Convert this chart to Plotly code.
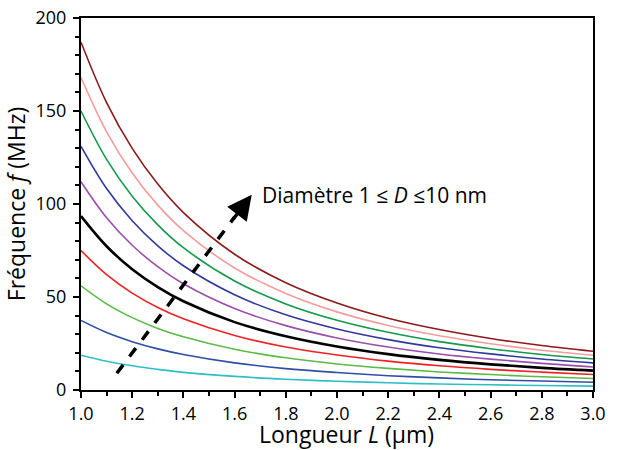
import plotly.graph_objects as go

# Longueur L (µm)
L = [1.0, 1.1, 1.2, 1.3, 1.4, 1.6, 1.8, 2.0, 2.2, 2.4, 2.6, 2.8, 3.0]

# Fréquence f (MHz), one series per diameter (1 ... 10 nm)
f_d1 = [18.7, 15.5, 13.0, 11.1, 9.5, 7.3, 5.8, 4.7, 3.9, 3.2, 2.8, 2.4, 2.1]
f_d2 = [37.4, 30.9, 26.0, 22.1, 19.1, 14.6, 11.5, 9.4, 7.7, 6.5, 5.5, 4.8, 4.2]
f_d3 = [56.0, 46.3, 38.9, 33.1, 28.6, 21.9, 17.3, 14.0, 11.6, 9.7, 8.3, 7.1, 6.2]
f_d4 = [75.0, 62.0, 52.1, 44.4, 38.3, 29.3, 23.1, 18.8, 15.5, 13.0, 11.1, 9.6, 8.3]
f_d5 = [93.5, 77.3, 64.9, 55.3, 47.7, 36.5, 28.9, 23.4, 19.3, 16.2, 13.8, 11.9, 10.4]
f_d6 = [112.0, 92.6, 77.8, 66.3, 57.1, 43.8, 34.6, 28.0, 23.1, 19.4, 16.6, 14.3, 12.4]
f_d7 = [131.0, 108.3, 91.0, 77.5, 66.8, 51.2, 40.4, 32.8, 27.1, 22.7, 19.4, 16.7, 14.6]
f_d8 = [150.0, 124.0, 104.2, 88.8, 76.5, 58.6, 46.3, 37.5, 31.0, 26.0, 22.2, 19.1, 16.7]
f_d9 = [168.0, 138.8, 116.7, 99.4, 85.7, 65.6, 51.9, 42.0, 34.7, 29.2, 24.9, 21.4, 18.7]
f_d10 = [187.0, 154.5, 129.9, 110.7, 95.4, 73.0, 57.7, 46.8, 38.6, 32.5, 27.7, 23.9, 20.8]

series = [f_d1, f_d2, f_d3, f_d4, f_d5, f_d6, f_d7, f_d8, f_d9, f_d10]
colors = ["#2EBFC4", "#2F4FA6", "#5BBB45", "#EE2224", "#000000",
          "#9A4FA8", "#2E3A9C", "#14994A", "#F59C9C", "#8B1A1A"]
widths = [1.6, 1.6, 1.6, 1.6, 2.6, 1.6, 1.6, 1.6, 1.6, 1.6]

x_ticks = [1.0, 1.2, 1.4, 1.6, 1.8, 2.0, 2.2, 2.4, 2.6, 2.8, 3.0]
x_tick_labels = ["1.0", "1.2", "1.4", "1.6", "1.8", "2.0", "2.2", "2.4", "2.6", "2.8", "3.0"]
y_ticks = [0, 50, 100, 150, 200]
y_tick_labels = ["0", "50", "100", "150", "200"]

# dashed arrow (data coordinates)
arrow_start = (1.14, 9.0)
arrow_end = (1.667, 105.0)
arrow_body_end = (1.60, 93.0)

FONT = "Open Sans"

fig = go.Figure()
for ys, c, w in zip(series, colors, widths):
    fig.add_trace(go.Scatter(x=L, y=ys, mode="lines",
                             line=dict(color=c, width=w, shape="spline", smoothing=1.0),
                             showlegend=False, hoverinfo="skip"))

fig.add_shape(type="line", xref="x", yref="y",
              x0=arrow_start[0], y0=arrow_start[1],
              x1=arrow_body_end[0], y1=arrow_body_end[1],
              line=dict(color="black", width=3.5, dash="dash"))
fig.add_annotation(x=arrow_end[0], y=arrow_end[1], ax=arrow_body_end[0] - 0.01,
                   ay=arrow_body_end[1] - 2, axref="x", ayref="y", xref="x", yref="y",
                   text="", showarrow=True, arrowhead=2, arrowsize=1.4,
                   arrowwidth=3.5, arrowcolor="black")
fig.add_annotation(x=1.70, y=105, xref="x", yref="y", xanchor="left", yanchor="middle",
                   text="Diamètre 1 ≤ <i>D</i> ≤10 nm", showarrow=False,
                   font=dict(family=FONT, size=21, color="black"))

# x-axis title as annotation (slightly right of centre, as in the reference)
fig.add_annotation(x=0.518, y=-0.118, xref="paper", yref="paper", xanchor="center",
                   yanchor="middle", showarrow=False, text="Longueur <i>L</i> (µm)",
                   font=dict(family=FONT, size=23, color="black"))

axis_common = dict(showgrid=False, zeroline=False, showline=True, linecolor="black",
                   linewidth=2, mirror=True, ticks="outside", tickwidth=2,
                   ticklen=6, tickcolor="black", automargin=False,
                   tickfont=dict(family=FONT, size=18, color="black"))

fig.update_xaxes(range=[1.0, 3.0], tickvals=x_ticks, ticktext=x_tick_labels,
                 minor=dict(ticks="outside", dtick=0.1, ticklen=4, tickwidth=1.5,
                            tickcolor="black"),
                 **axis_common)
fig.update_yaxes(range=[0, 200], tickvals=y_ticks, ticktext=y_tick_labels,
                 minor=dict(ticks="outside", dtick=10, ticklen=4, tickwidth=1.5,
                            tickcolor="black"),
                 ticklabelstandoff=3,
                 title=dict(text="Fréquence <i>f</i> (MHz)", standoff=4,
                            font=dict(family=FONT, size=23, color="black")),
                 **axis_common)

fig.update_layout(width=617, height=450, plot_bgcolor="white", paper_bgcolor="white",
                  margin=dict(l=81, r=24, t=18, b=60))

fig.write_html("out.html", config={"displayModeBar": False},
               post_script="document.body.style.margin='0';document.body.style.padding='0';")
